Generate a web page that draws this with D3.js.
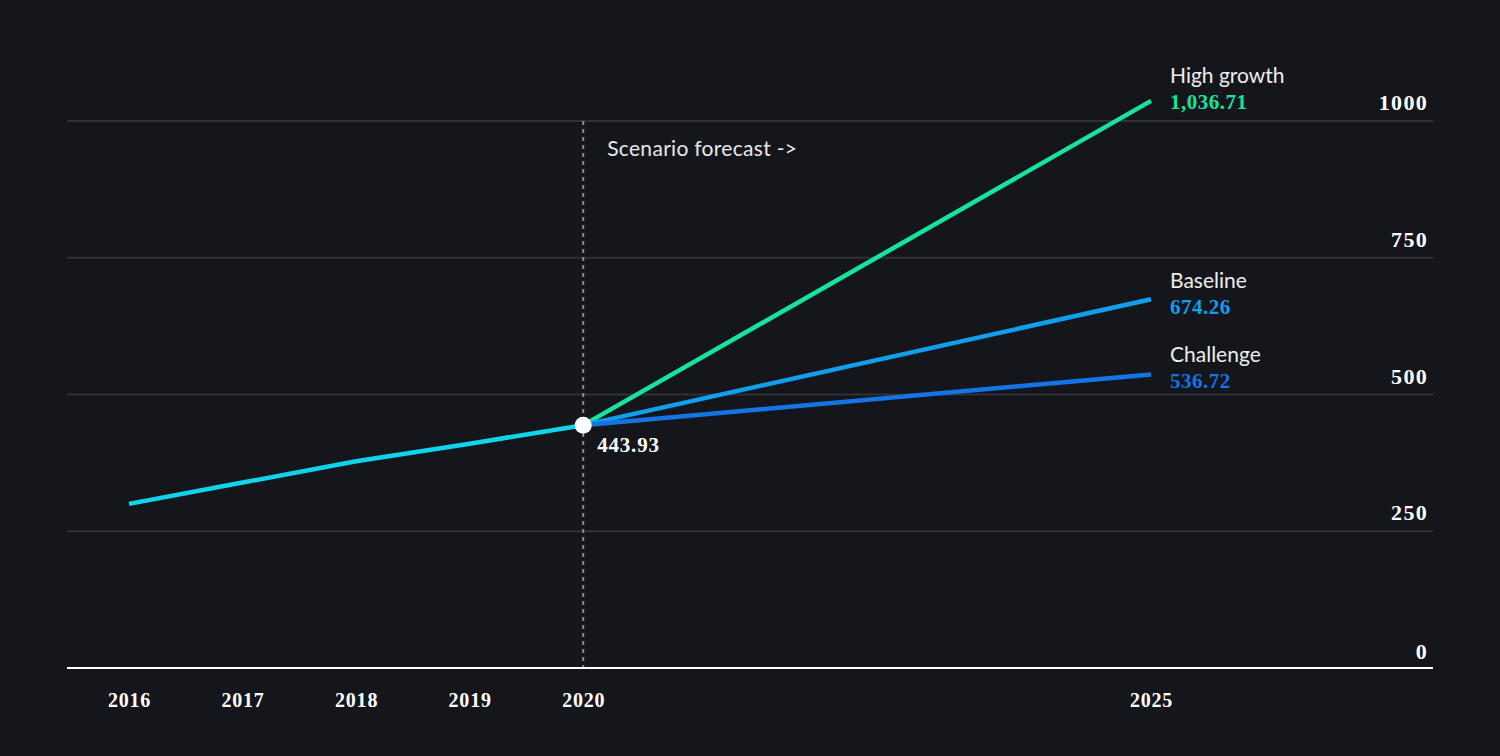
<!DOCTYPE html>
<html><head><meta charset="utf-8">
<script src="https://cdn.jsdelivr.net/npm/d3@7"></script>
<style>
html,body{margin:0;padding:0;background:#15161b;}
svg{display:block;}
.num{font-family:"Liberation Serif",serif;font-weight:700;}
.lab{font-family:Lato,"Open Sans",sans-serif;}
</style></head>
<body>
<svg id="c" width="1500" height="756"></svg>
<script>
const histYears = [2016, 2017, 2018, 2019, 2020];
const histValues = [300, 339, 378, 410, 443.93];
const scenarioNames = ["High growth", "Baseline", "Challenge"];
const scenarioStart = [2020, 443.93];
const scenarioEndYear = 2025;
const scenarioEndValues = [1036.71, 674.26, 536.72];
const scenarioLabels = ["1,036.71", "674.26", "536.72"];
const xTickYears = [2016, 2017, 2018, 2019, 2020, 2025];
const yTicks = [0, 250, 500, 750, 1000];
const startLabel = "443.93";
const forecastNote = "Scenario forecast ->";

const scenarioColors = ["#16e39e", "#109fec", "#1474e4"];
const histColor = "#10d4ea";
const labelDy = [8, 15, 14];

const svg = d3.select("#c");
const left = 67, right = 1433;
const x = d3.scaleLinear().domain([2016, 2025]).range([129, 1151]);
const y = d3.scaleLinear().domain([0, 1000]).range([668, 121]);

// gridlines
svg.append("g").selectAll("line").data(yTicks.filter(d => d > 0)).join("line")
  .attr("x1", left).attr("x2", right)
  .attr("y1", d => y(d)).attr("y2", d => y(d))
  .attr("stroke", "#303137").attr("stroke-width", 2);

// y tick labels
svg.append("g").selectAll("text").data(yTicks).join("text")
  .attr("class", "num")
  .attr("x", 1428).attr("y", d => y(d) - (d === 0 ? 9 : 11))
  .attr("text-anchor", "end")
  .attr("fill", "#ffffff").attr("font-size", 22).attr("letter-spacing", 1.3)
  .text(d => d);

// dashed forecast divider
svg.append("line")
  .attr("x1", x(2020)).attr("x2", x(2020))
  .attr("y1", y(1000)).attr("y2", y(0))
  .attr("stroke", "#8a8b90").attr("stroke-width", 2)
  .attr("stroke-dasharray", "4,4");

// x axis
const xAxis = d3.axisBottom(x).tickValues(xTickYears).tickSize(0).tickPadding(0).tickFormat(d3.format("d"));
const gx = svg.append("g").attr("transform", `translate(0,${y(0)})`).call(xAxis);
gx.select(".domain").remove();
gx.selectAll("text").attr("fill", "#ffffff")
  .attr("font-size", 20).attr("dy", null).attr("y", 39).attr("letter-spacing", 0.8)
  .attr("font-family", "Liberation Serif, serif").attr("font-weight", 700);
svg.append("line").attr("x1", left).attr("x2", right)
  .attr("y1", y(0)).attr("y2", y(0))
  .attr("stroke", "#ffffff").attr("stroke-width", 2);

// forecast note
svg.append("text").attr("class", "lab")
  .attr("x", x(2020) + 24).attr("y", 156)
  .attr("fill", "#e8e8e8").attr("font-size", 21).attr("letter-spacing", 0.3)
  .text(forecastNote);

const line = d3.line().x(d => x(d[0])).y(d => y(d[1]));

// history
svg.append("path")
  .datum(histYears.map((yr, i) => [yr, histValues[i]]))
  .attr("d", line).attr("fill", "none")
  .attr("stroke", histColor).attr("stroke-width", 4.5);

// scenarios
scenarioNames.forEach((name, i) => {
  svg.append("path")
    .datum([scenarioStart, [scenarioEndYear, scenarioEndValues[i]]])
    .attr("d", line).attr("fill", "none")
    .attr("stroke", scenarioColors[i]).attr("stroke-width", 4.5);
  const vy = y(scenarioEndValues[i]) + labelDy[i];
  svg.append("text").attr("class", "lab")
    .attr("x", x(scenarioEndYear) + 19).attr("y", vy - 26)
    .attr("fill", "#eeeeee").attr("font-size", 21).text(name);
  svg.append("text").attr("class", "num")
    .attr("x", x(scenarioEndYear) + 19).attr("y", vy)
    .attr("fill", scenarioColors[i]).attr("font-size", 21).attr("letter-spacing", 0.5)
    .text(scenarioLabels[i]);
});

// start dot
svg.append("circle")
  .attr("cx", x(scenarioStart[0])).attr("cy", y(scenarioStart[1]))
  .attr("r", 8.5).attr("fill", "#ffffff");
svg.append("text").attr("class", "num")
  .attr("x", x(scenarioStart[0]) + 14).attr("y", y(scenarioStart[1]) + 27)
  .attr("fill", "#ffffff").attr("font-size", 21).attr("letter-spacing", 0.8)
  .text(startLabel);
</script>
</body></html>
